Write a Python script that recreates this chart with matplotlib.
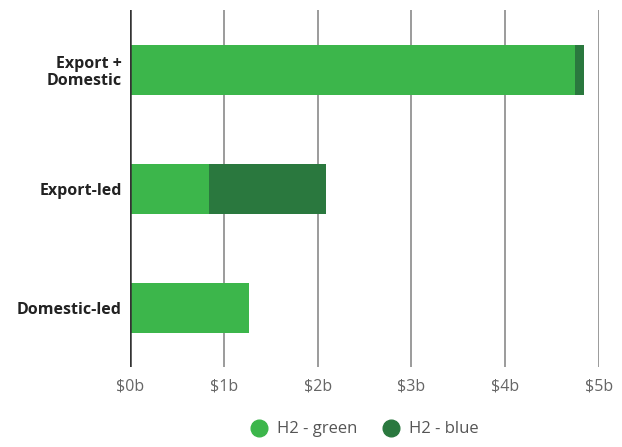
import numpy as np
from matplotlib import pyplot as plt
from matplotlib.lines import Line2D

categories = ["Export +\nDomestic", "Export-led", "Domestic-led"]
h2_green = [4.74, 0.84, 1.27]
h2_blue = [0.10, 1.245, 0.0]
ticks = [0, 1, 2, 3, 4, 5]
tick_labels = ["$0b", "$1b", "$2b", "$3b", "$4b", "$5b"]

green = "#3cb64b"
blue = "#2a783e"

plt.rcParams['font.family'] = ['Open Sans', 'DejaVu Sans']

fig = plt.figure(figsize=(6.22, 4.47), dpi=100)
ax = fig.add_axes([0.209, 0.179, 0.754, 0.799])

y = np.arange(len(categories))
ax.barh(y, h2_green, height=0.42, color=green, zorder=3)
ax.barh(y, h2_blue, left=h2_green, height=0.42, color=blue, zorder=3)

ax.set_xlim(0, 5)
ax.set_ylim(2.495, -0.505)
ax.set_xticks(ticks)
ax.set_xticklabels(tick_labels, fontsize=11.5, color="#666666")
ax.set_yticks(y)
ax.set_yticklabels(categories, fontsize=11.5, fontweight="bold", color="#222222",
                   linespacing=1.1)
ax.tick_params(axis="both", length=0)
ax.tick_params(axis="x", pad=8)
ax.tick_params(axis="y", pad=6)

for t in ticks[1:]:
    ax.axvline(t, color="#8a8a8a", lw=1.2, zorder=1)
ax.axvline(0, color="#333333", lw=1.8, zorder=4)

for s in ax.spines.values():
    s.set_visible(False)

handles = [
    Line2D([], [], marker="o", ls="", color=green, markersize=12, label="H2 - green"),
    Line2D([], [], marker="o", ls="", color=blue, markersize=12, label="H2 - blue"),
]
fig.legend(handles=handles, loc="lower center", bbox_to_anchor=(0.58, -0.012), ncol=2,
           frameon=False, fontsize=12, handletextpad=0.1, columnspacing=1.0,
           labelcolor="#555555")

fig.savefig("out.png", dpi=100)
